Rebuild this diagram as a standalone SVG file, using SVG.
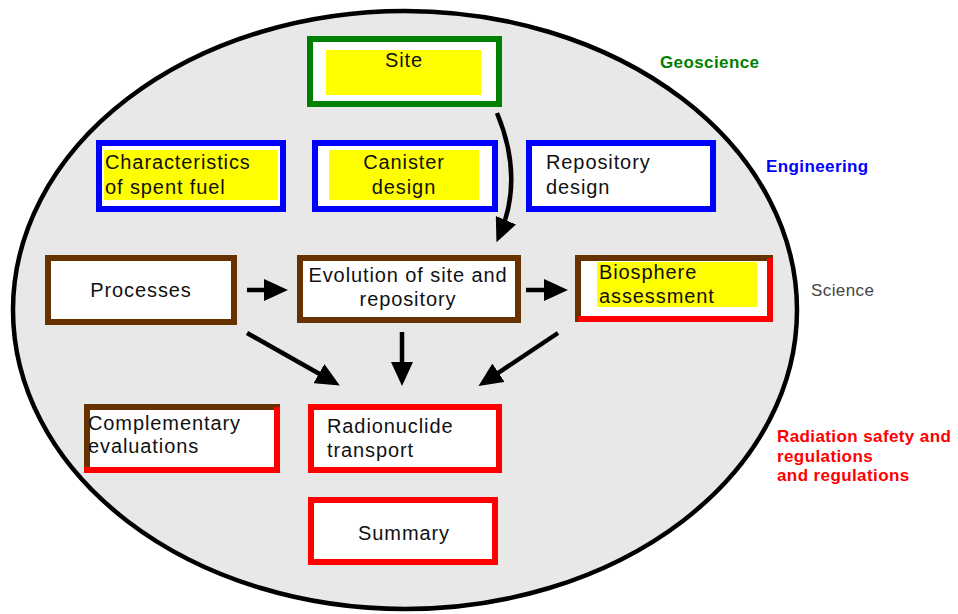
<svg xmlns="http://www.w3.org/2000/svg" width="958" height="614" viewBox="0 0 958 614">
<style>
.t{font-family:"Liberation Sans",Arial,sans-serif;font-size:20px;letter-spacing:0.9px;fill:#111}
.c{text-anchor:middle}
.lab{font-family:"Liberation Sans",Arial,sans-serif;font-size:17px;font-weight:bold;letter-spacing:0.4px}
.box{fill:#fff;stroke-width:6}
.g{stroke:#008000}.b{stroke:#0000ff}.br{stroke:#663300}.r{stroke:#ff0000}
.y{fill:#ffff00}
.conn{fill:none;stroke:#000;stroke-width:4.5;marker-end:url(#ah)}
</style>
<defs>
<marker id="ah" markerUnits="userSpaceOnUse" markerWidth="24" markerHeight="22" refX="15" refY="11" orient="auto">
<path d="M0,0 L24,11 L0,22 z" fill="#000"/>
</marker>
</defs>
<rect width="958" height="614" fill="#fff"/>
<ellipse id="frame" cx="405" cy="310" rx="392" ry="299" fill="#e8e8e8" stroke="#000" stroke-width="4.5"/>

<g id="site">
<rect class="box g" x="310" y="39" width="189" height="65"/>
<rect class="y" x="326" y="50" width="155" height="45"/>
<text class="t c" x="404" y="67">Site</text>
</g>
<g id="characteristics">
<rect class="box b" x="99" y="143" width="184" height="66"/>
<rect class="y" x="104" y="150" width="174" height="50"/>
<text class="t" x="105" y="169">Characteristics</text>
<text class="t" x="105" y="194">of spent fuel</text>
</g>
<g id="canister">
<rect class="box b" x="315" y="143" width="180" height="66"/>
<rect class="y" x="329" y="150" width="150" height="50"/>
<text class="t c" x="404" y="169">Canister</text>
<text class="t c" x="404" y="194">design</text>
</g>
<g id="repository">
<rect class="box b" x="529" y="143" width="184" height="66"/>
<text class="t" x="546" y="169">Repository</text>
<text class="t" x="546" y="194">design</text>
</g>
<g id="processes">
<rect class="box br" x="48" y="258" width="186" height="64"/>
<text class="t c" x="141" y="297">Processes</text>
</g>
<g id="evolution">
<rect class="box br" x="300" y="258" width="218" height="62"/>
<text class="t c" x="408" y="282">Evolution of site and</text>
<text class="t c" x="408" y="306">repository</text>
</g>
<g id="biosphere">
<rect x="575" y="255" width="198" height="67" fill="#fff"/>
<path d="M578,322 V258 H773" fill="none" stroke="#663300" stroke-width="6"/>
<path d="M578,319 H770 V258" fill="none" stroke="#ff0000" stroke-width="6"/>
<rect class="y" x="597" y="262" width="160" height="45"/>
<text class="t" x="599" y="279">Biosphere</text>
<text class="t" x="599" y="303">assessment</text>
</g>
<g id="complementary">
<rect x="84" y="404" width="196" height="69" fill="#fff"/>
<path d="M87,473 V407 H280" fill="none" stroke="#663300" stroke-width="6"/>
<path d="M84,470 H277 V407" fill="none" stroke="#ff0000" stroke-width="6"/>
<text class="t" x="88" y="430">Complementary</text>
<text class="t" x="88" y="453">evaluations</text>
</g>
<g id="radionuclide">
<rect class="box r" x="311" y="407" width="188" height="63"/>
<text class="t" x="327" y="433">Radionuclide</text>
<text class="t" x="327" y="457">transport</text>
</g>
<g id="summary">
<rect class="box r" x="311" y="500" width="184" height="62"/>
<text class="t c" x="404" y="540">Summary</text>
</g>

<g id="connectors">
<path class="conn" d="M497,113 Q524,178 500,234"/>
<path class="conn" d="M247,290 L279,290"/>
<path class="conn" d="M526,290 L559,290"/>
<path class="conn" d="M247,333 L332,381"/>
<path class="conn" d="M402,332 L402,377"/>
<path class="conn" d="M558,333 L486,381"/>
</g>

<g id="labels">
<text class="lab" x="660" y="68" fill="#008000">Geoscience</text>
<text class="lab" x="766" y="172" fill="#0000ff">Engineering</text>
<text class="lab" x="811" y="296" fill="#444" style="font-weight:normal">Science</text>
<text class="lab" x="777" y="442" fill="#ff0000">Radiation safety and</text>
<text class="lab" x="777" y="462" fill="#ff0000">regulations</text>
<text class="lab" x="777" y="481" fill="#ff0000">and regulations</text>
</g>
</svg>
